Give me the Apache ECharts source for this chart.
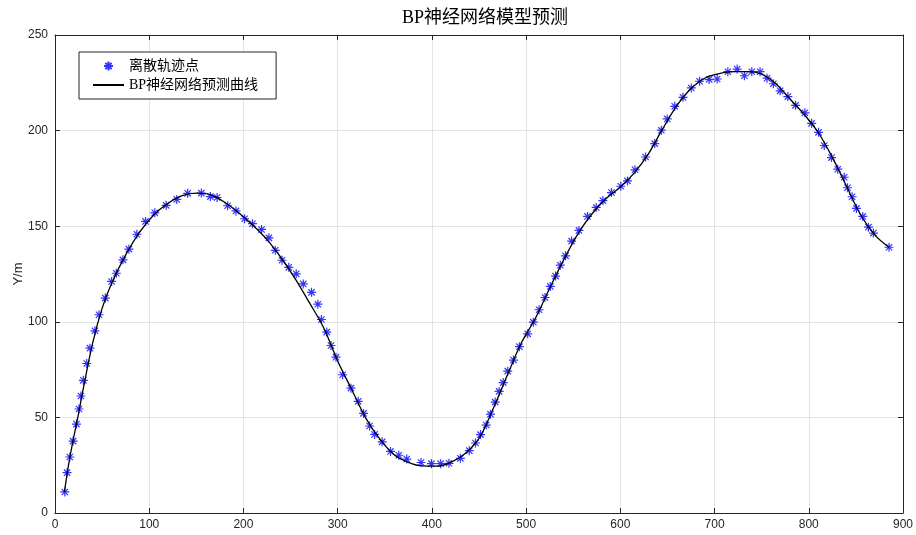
<!DOCTYPE html>
<html>
<head>
<meta charset="utf-8">
<script src="https://cdn.jsdelivr.net/npm/echarts@6/dist/echarts.min.js"></script>
<style>
  html, body { margin: 0; padding: 0; background: #fff; }
  #chart { width: 916px; height: 535px; }
</style>
</head>
<body>
<div id="chart"></div>
<script>
// Discrete track points (x, y)
const trackX = [10.4, 12.8, 15.7, 19.2, 22.8, 25.4, 27.5, 30.1, 33.7, 37.1, 42.4, 46.7, 53.4, 60.1, 65.1, 72.1, 78.4, 86.9, 96.1, 105.9,
  118.0, 129.2, 140.8, 155.3, 164.9, 172.0, 183.2, 192.1, 201.2, 209.6, 219.2, 227.0, 233.8, 240.9, 248.1, 256.0, 263.5, 272.3, 279.0, 282.8,
  288.4, 292.9, 298.2, 305.3, 314.1, 321.8, 327.5, 333.9, 339.2, 347.2, 356.1, 364.9, 373.3, 388.5, 399.5, 409.3, 418.1, 430.2, 439.7, 446.3,
  451.6, 457.7, 462.2, 467.2, 471.4, 475.7, 480.5, 486.6, 492.9, 501.7, 507.7, 513.8, 520.1, 525.7, 531.3, 536.3, 541.9, 548.3, 556.1, 565.2,
  574.4, 581.5, 590.6, 600.5, 607.6, 615.6, 626.8, 636.5, 643.5, 649.8, 657.7, 666.5, 675.3, 684.1, 694.3, 702.8, 714.1, 724.0, 731.7, 739.5,
  748.3, 755.7, 762.4, 769.6, 777.8, 786.0, 795.9, 803.0, 810.4, 816.4, 824.1, 830.8, 837.6, 841.1, 846.0, 850.6, 857.3, 863.3, 868.6, 885.2];
const trackY = [11.0, 21.1, 29.3, 37.6, 46.5, 54.4, 61.2, 69.4, 78.2, 86.2, 95.3, 103.7, 112.4, 121.1, 125.4, 132.4, 138.0, 145.8, 152.5, 157.0,
  160.9, 164.0, 167.2, 167.3, 165.5, 165.0, 160.7, 158.0, 153.9, 151.3, 148.3, 143.9, 137.4, 132.2, 128.5, 125.1, 119.8, 115.4, 109.2, 101.2,
  94.6, 87.6, 81.5, 72.3, 65.3, 58.4, 52.1, 45.5, 41.1, 37.2, 32.2, 30.2, 28.2, 26.4, 25.8, 25.8, 26.0, 28.6, 32.6, 36.6,
  41.0, 46.0, 51.7, 58.0, 63.6, 68.2, 74.2, 80.0, 87.0, 93.7, 99.8, 106.3, 112.7, 118.5, 123.9, 129.6, 134.5, 142.2, 147.8, 155.1,
  159.8, 163.4, 167.6, 170.9, 173.7, 179.5, 186.2, 193.2, 200.2, 206.1, 212.7, 217.4, 222.3, 225.8, 226.7, 227.0, 230.8, 232.2, 228.7, 230.8,
  230.8, 227.4, 224.5, 220.8, 217.8, 213.2, 209.3, 203.8, 199.1, 192.2, 185.9, 179.8, 175.6, 170.1, 165.4, 159.3, 155.1, 149.5, 146.4, 139.0];

// BP network prediction curve samples
const curveX = [10, 15, 20, 25, 30, 40, 50, 60, 75, 90, 105, 120, 135, 150, 165, 180, 195, 210, 225, 240,
  255, 270, 285, 300, 315, 330, 345, 360, 375, 390, 405, 420, 435, 450, 465, 480, 495, 510, 525, 540,
  555, 570, 585, 600, 615, 630, 645, 660, 675, 690, 705, 720, 735, 750, 765, 780, 795, 810, 825, 840,
  855, 870, 885];
const curveY = [11, 27, 40, 52, 65, 89, 107, 120, 135, 147, 156, 162, 166, 167.3, 166.5, 162.5, 157, 150.5, 143, 133.5,
  122.5, 110, 97, 79.5, 64.5, 49.5, 38.5, 30.5, 26.5, 24.6, 24.5, 26.5, 31, 39, 54.5, 72, 89, 102, 117.5, 132.5,
  146, 156.5, 164.5, 170.5, 178, 188, 201, 213, 222, 227.5, 229.8, 230.8, 230.8, 229.5, 224.5, 216.5, 208.5, 199, 186, 171,
  156, 145.5, 139];

// Axis ranges and tick spacing
const xRange = [0, 900];
const xStep = 100;
const yRange = [0, 250];
const yStep = 50;

const titleText = 'BP神经网络模型预测';
const pointName = '离散轨迹点';
const curveName = 'BP神经网络预测曲线';
const yName = 'Y/m';

// MATLAB-style asterisk marker
const STAR = 'path://M0,-10L0,10M-10,0L10,0M-7,-7L7,7M-7,7L7,-7';

const axisColor = '#262626';
const gridColor = '#e4e4e4';
const numFont = "'Liberation Sans', Arial, sans-serif";
const cjkFont = "'Liberation Serif', 'Noto Sans CJK SC', serif";

const chart = echarts.init(document.getElementById('chart'), null, { renderer: 'canvas' });

function xAxisDef(pos, main) {
  return {
    type: 'value', position: pos, min: xRange[0], max: xRange[1], interval: xStep,
    axisLine: { show: true, onZero: false, lineStyle: { color: axisColor, width: 1 } },
    axisTick: { show: true, inside: true, length: 5, lineStyle: { color: axisColor } },
    axisLabel: { show: main, color: axisColor, fontSize: 12, fontFamily: numFont, margin: 6 },
    splitLine: { show: main, lineStyle: { color: gridColor, width: 1 } }
  };
}
function yAxisDef(pos, main) {
  const a = {
    type: 'value', position: pos, min: yRange[0], max: yRange[1], interval: yStep,
    axisLine: { show: true, onZero: false, lineStyle: { color: axisColor, width: 1 } },
    axisTick: { show: true, inside: true, length: 5, lineStyle: { color: axisColor } },
    axisLabel: { show: main, color: axisColor, fontSize: 12, fontFamily: numFont, margin: 7 },
    splitLine: { show: main, lineStyle: { color: gridColor, width: 1 } }
  };
  if (main) {
    a.name = yName;
    a.nameLocation = 'middle';
    a.nameGap = 30;
    a.nameMoveOverlap = false;
    a.nameTextStyle = { color: axisColor, fontSize: 13, fontFamily: numFont };
  }
  return a;
}

chart.setOption({
  animation: false,
  backgroundColor: '#fff',
  title: {
    text: titleText, left: 480, top: 4, textAlign: 'center',
    textStyle: { fontSize: 18, fontWeight: 'normal', color: '#000', fontFamily: cjkFont }
  },
  grid: { left: 55, right: 11, top: 35, bottom: 22, containLabel: false },
  legend: {
    orient: 'vertical', left: 79, top: 52,
    itemWidth: 31, itemHeight: 9, itemGap: 5,
    padding: [7, 18, 7, 13],
    backgroundColor: '#fff', borderColor: axisColor, borderWidth: 1,
    textStyle: { fontSize: 14, color: '#000', fontFamily: cjkFont },
    data: [
      { name: pointName, icon: STAR },
      { name: curveName, itemStyle: { opacity: 0 } }
    ]
  },
  xAxis: [xAxisDef('bottom', true), xAxisDef('top', false)],
  yAxis: [yAxisDef('left', true), yAxisDef('right', false)],
  series: [
    {
      name: pointName, type: 'scatter', xAxisIndex: 0, yAxisIndex: 0,
      symbol: STAR, symbolSize: 9,
      itemStyle: { color: 'rgba(0,0,0,0)', borderColor: '#0000ff', borderWidth: 1.2 },
      data: trackX.map((x, i) => [x, trackY[i]]),
      z: 2
    },
    {
      name: curveName, type: 'line', xAxisIndex: 0, yAxisIndex: 0,
      smooth: 0.35, symbol: 'none', showSymbol: false,
      lineStyle: { color: '#000', width: 1.3 },
      itemStyle: { color: '#000' },
      data: curveX.map((x, i) => [x, curveY[i]]),
      z: 3
    }
  ]
});
</script>
</body>
</html>
